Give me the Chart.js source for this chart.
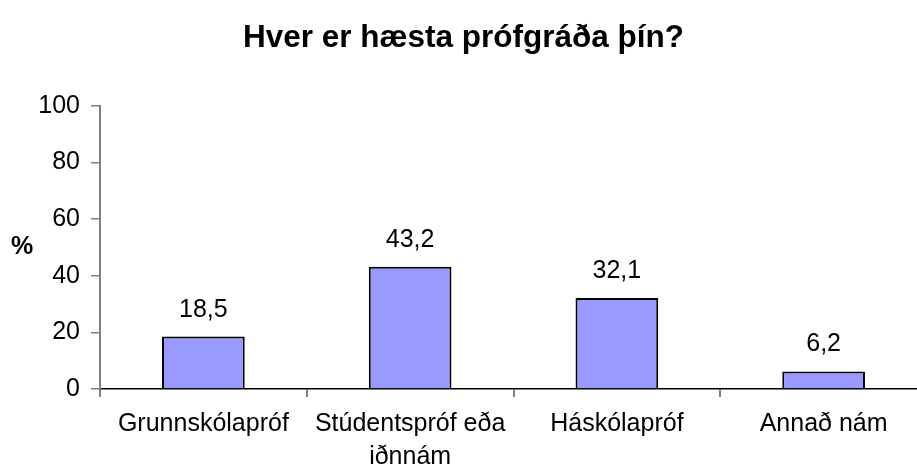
<!DOCTYPE html>
<html>
<head>
<meta charset="utf-8">
<script src="https://cdn.jsdelivr.net/npm/chart.js@4"></script>
<style>
  html,body{margin:0;padding:0;background:#fff;overflow:hidden;}
  #wrap{width:927px;height:473px;}
</style>
</head>
<body>
<div id="wrap"><canvas id="c" width="927" height="473"></canvas></div>
<script>
const categories = ['Grunnskólapróf', ['Stúdentspróf eða', 'iðnnám'], 'Háskólapróf', 'Annað nám'];
const percentValues = [18.5, 43.2, 32.1, 6.2];
const yTicks = [0, 20, 40, 60, 80, 100];
const chartTitle = 'Hver er hæsta prófgráða þín?';
const yLabel = '%';

const FONT = '"Liberation Sans", Arial, sans-serif';

// labels above bars + horizontal "%" on the left
const extras = {
  id: 'extras',
  afterDatasetsDraw(chart){
    const ctx = chart.ctx;
    const meta = chart.getDatasetMeta(0);
    ctx.save();
    ctx.fillStyle = '#000';
    ctx.font = `25px ${FONT}`;
    ctx.textAlign = 'center';
    ctx.textBaseline = 'alphabetic';
    meta.data.forEach((bar,i)=>{
      ctx.fillText(percentValues[i].toFixed(1).replace('.', ','), bar.x, bar.y - 20);
    });
    ctx.font = `bold 25px ${FONT}`;
    ctx.textBaseline = 'middle';
    ctx.fillText(yLabel, 22, chart.scales.y.getPixelForValue(50));
    ctx.restore();
  }
};

new Chart(document.getElementById('c'), {
  type: 'bar',
  data: {
    labels: categories,
    datasets: [{
      data: percentValues,
      backgroundColor: '#9999FF',
      borderColor: '#000',
      borderWidth: 2,
      barPercentage: 0.4,
      categoryPercentage: 1
    }]
  },
  options: {
    responsive: false,
    animation: false,
    layout: { padding: 0 },
    plugins: {
      legend: { display: false },
      tooltip: { enabled: false },
      title: {
        display: true,
        text: chartTitle,
        color: '#000',
        font: { family: FONT, size: 31.5, weight: 'bold' },
        padding: { top: 19, bottom: 49 }
      }
    },
    scales: {
      x: {
        offset: true,
        grid: { offset: true, drawOnChartArea: false, drawTicks: true, tickLength: 8, color: '#808080', lineWidth: 2 },
        border: { color: '#000', width: 1.5 },
        ticks: { color: '#000', font: { family: FONT, size: 25, lineHeight: 1.3 }, padding: 11, maxRotation: 0, autoSkip: false },
        afterFit(scale){ scale.height = 84; }
      },
      y: {
        min: 0, max: 100,
        afterBuildTicks(scale){ scale.ticks = yTicks.map(v=>({value:v})); },
        grid: { drawOnChartArea: false, drawTicks: true, tickLength: 9, color: '#808080', lineWidth: 1.5 },
        border: { color: '#808080', width: 2 },
        ticks: { color: '#000', font: { family: FONT, size: 25 }, padding: 11 },
        afterFit(scale){ scale.width = 100; }
      }
    }
  },
  plugins: [extras]
});
</script>
</body>
</html>
